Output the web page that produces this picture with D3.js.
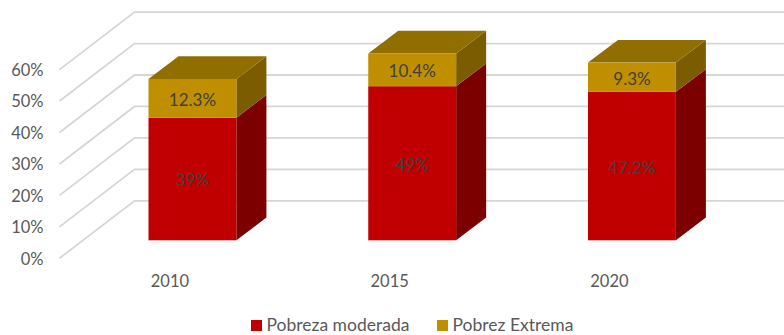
<!DOCTYPE html>
<html>
<head>
<meta charset="utf-8">
<style>
  html, body { margin: 0; padding: 0; background: #fff; }
  svg { display: block; }
  text { font-family: Lato, "Open Sans", sans-serif; }
</style>
<script src="https://d3js.org/d3.v7.min.js"></script>
</head>
<body>
<div id="chart"></div>
<script>
var years = ["2010", "2015", "2020"];
var moderada = [39, 49, 47.2];
var extrema = [12.3, 10.4, 9.3];
var moderadaLabels = ["39%", "49%", "47.2%"];
var extremaLabels = ["12.3%", "10.4%", "9.3%"];
var yTicks = [0, 10, 20, 30, 40, 50, 60];
var seriesNames = ["Pobreza moderada", "Pobrez Extrema"];

var width = 784, height = 335;

// depth of the fake 3d: floor goes from the axis to the back wall, bars sit inside it
var wallDx = 75, wallDy = -57.5;
var barDx = 30, barDy = -22.7;

var svg = d3.select("#chart").append("svg")
  .attr("width", width)
  .attr("height", height);

var yWall = d3.scaleLinear().domain([0, 60]).range([258.3, 69.6]);
var yBar = d3.scaleLinear().domain([0, 60]).range([240.3, 51.6]);
var x = d3.scaleBand().domain(years).range([148.5, 675.9]).paddingInner(0.6).paddingOuter(0);

// grid: slanted part on the side wall, then flat along the back wall
var grid = svg.append("g").attr("fill", "none").attr("stroke", "#d6d6d6").attr("stroke-width", 1.8);
yTicks.forEach(function(t) {
  var p = d3.path();
  p.moveTo(59.5, yWall(t));
  p.lineTo(59.5 + wallDx, yWall(t) + wallDy);
  p.lineTo(width, yWall(t) + wallDy);
  grid.append("path").attr("d", p.toString());
});

// tick labels
var yAxis = d3.axisLeft(yWall)
  .tickValues(yTicks)
  .tickSize(0)
  .tickPadding(0)
  .tickFormat(function(d) { return d + "%"; });

var axisG = svg.append("g")
  .attr("transform", "translate(43.5,0.6)")
  .call(yAxis);
axisG.select(".domain").remove();
axisG.selectAll("text")
  .attr("font-size", 16.5)
  .attr("fill", "#595959")
  .style("font-family", "Lato, 'Open Sans', sans-serif");

function quad(x0, y0, x1, y1, x2, y2, x3, y3) {
  return "M" + x0 + "," + y0 + "L" + x1 + "," + y1 + "L" + x2 + "," + y2 + "L" + x3 + "," + y3 + "Z";
}

var bars = svg.selectAll("g.bar")
  .data(years)
  .enter().append("g")
  .attr("class", "bar");

bars.each(function(year, i) {
  var g = d3.select(this);
  var x0 = x(year), w = x.bandwidth();
  var y0 = yBar(0), y1 = yBar(moderada[i]), y2 = yBar(moderada[i] + extrema[i]);

  // side faces
  g.append("path")
    .attr("d", quad(x0 + w, y0, x0 + w + barDx, y0 + barDy, x0 + w + barDx, y1 + barDy, x0 + w, y1))
    .attr("fill", "#7c0000");
  g.append("path")
    .attr("d", quad(x0 + w, y1, x0 + w + barDx, y1 + barDy, x0 + w + barDx, y2 + barDy, x0 + w, y2))
    .attr("fill", "#7b5d00");
  // top face
  g.append("path")
    .attr("d", quad(x0, y2, x0 + barDx, y2 + barDy, x0 + w + barDx, y2 + barDy, x0 + w, y2))
    .attr("fill", "#916e00");
  // front faces
  g.append("rect")
    .attr("x", x0).attr("y", y1).attr("width", w).attr("height", y0 - y1)
    .attr("fill", "#c00000");
  g.append("rect")
    .attr("x", x0).attr("y", y2).attr("width", w).attr("height", y1 - y2)
    .attr("fill", "#bf8f00");

  g.append("text")
    .attr("x", x0 + w / 2).attr("y", (y0 + y1) / 2 + 1)
    .attr("text-anchor", "middle").attr("dominant-baseline", "central")
    .attr("font-size", 17).attr("fill", "#404040")
    .text(moderadaLabels[i]);
  g.append("text")
    .attr("x", x0 + w / 2).attr("y", (y1 + y2) / 2 + 1)
    .attr("text-anchor", "middle").attr("dominant-baseline", "central")
    .attr("font-size", 17).attr("fill", "#404040")
    .text(extremaLabels[i]);

  // category label sits left of the bar centre, as it was centred on the floor
  svg.append("text")
    .attr("x", x0 + w / 2 - 22.5).attr("y", 287)
    .attr("text-anchor", "middle")
    .attr("font-size", 16.5).attr("fill", "#595959")
    .text(year);
});

// legend
var legendColors = ["#c00000", "#bf8f00"];
var legendX = [251, 437];
seriesNames.forEach(function(name, i) {
  svg.append("rect")
    .attr("x", legendX[i]).attr("y", 320).attr("width", 11).attr("height", 11)
    .attr("fill", legendColors[i]);
  svg.append("text")
    .attr("x", legendX[i] + 15.5).attr("y", 331)
    .attr("font-size", 17.5).attr("fill", "#595959")
    .text(name);
});
</script>
</body>
</html>
